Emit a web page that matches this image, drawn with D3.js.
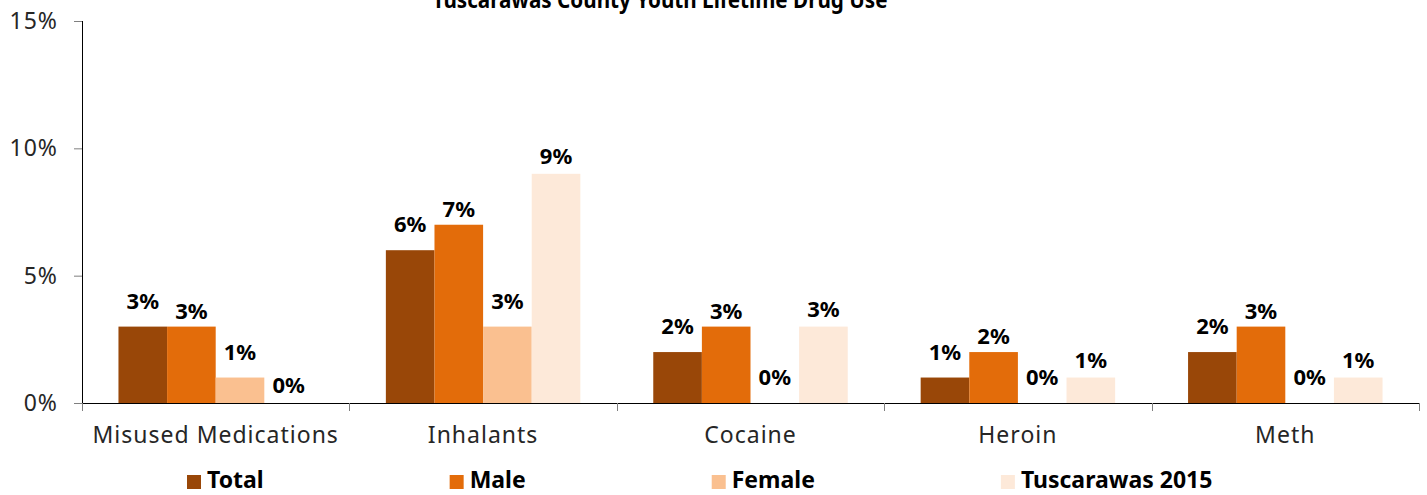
<!DOCTYPE html>
<html><head><meta charset="utf-8">
<script src="https://cdn.jsdelivr.net/npm/d3@7"></script>
<style>
body{margin:0;background:#fff;}
svg{display:block;font-family:"Noto Sans",sans-serif;}
</style></head>
<body>
<svg id="chart" width="1427" height="495"></svg>
<script>
const categories = ["Misused Medications","Inhalants","Cocaine","Heroin","Meth"];
const seriesNames = ["Total","Male","Female","Tuscarawas 2015"];
const totalValues = [3,6,2,1,2];
const maleValues = [3,7,3,2,3];
const femaleValues = [1,3,0,0,0];
const tusc2015Values = [0,9,3,1,1];
const yTicks = [0,5,10,15];
const titleText = "Tuscarawas County Youth Lifetime Drug Use";

const colors = ["#994708","#E36C0A","#FAC090","#FDE9D9"];
const labelGaps = [18,8,18,10];
const seriesValues = [totalValues, maleValues, femaleValues, tusc2015Values];

const svg = d3.select("#chart");
const margin = {left:82, right:8, top:21, bottom:92};
const W = 1427, H = 495;
const plotBottom = H - margin.bottom; // 403

const x0 = d3.scaleBand().domain(categories).range([margin.left, W - margin.right]).padding(0);
const x1 = d3.scaleBand().domain(seriesNames).range([0, x0.bandwidth()]).paddingOuter(0.75).paddingInner(0);
const y = d3.scaleLinear().domain([0,15]).range([plotBottom, margin.top]);

// title (partly cut off at the top, as in the reference)
svg.append("text").attr("x", 660).attr("y", 8).attr("text-anchor","middle")
  .attr("font-size", 24).attr("font-weight","bold").attr("fill","#000")
  .attr("textLength", 455).attr("lengthAdjust","spacingAndGlyphs").text(titleText);

// bars
const groups = svg.append("g").selectAll("g").data(categories).join("g")
  .attr("transform", d => `translate(${x0(d)},0)`);

seriesNames.forEach((s, si) => {
  groups.append("rect")
    .attr("x", x1(s))
    .attr("width", x1.bandwidth())
    .attr("y", (d,i) => y(seriesValues[si][i]))
    .attr("height", (d,i) => plotBottom - y(seriesValues[si][i]))
    .attr("fill", colors[si]);
  groups.append("text")
    .attr("x", x1(s) + x1.bandwidth()/2)
    .attr("y", (d,i) => y(seriesValues[si][i]) - labelGaps[si])
    .attr("text-anchor","middle")
    .attr("font-size", 22).attr("font-weight","bold").attr("fill","#000")
    .text((d,i) => seriesValues[si][i] + "%");
});

// y axis
const yAxis = d3.axisLeft(y).tickValues(yTicks).tickFormat(d => d + "%").tickSize(8).tickPadding(16);
const gy = svg.append("g").attr("transform", `translate(${margin.left},0)`).call(yAxis);
gy.select(".domain").attr("stroke","#000").attr("d", `M0.5,${y(15)}V${plotBottom}`);
gy.selectAll(".tick line").attr("stroke","#7f7f7f");
gy.selectAll(".tick text").attr("font-size", 23).attr("letter-spacing", 1).attr("fill","#262626")
  .attr("font-family","\"Noto Sans\",sans-serif");

// x axis
const gx = svg.append("g").attr("transform", `translate(0,${plotBottom})`);
gx.append("line").attr("x1", margin.left).attr("x2", W - margin.right).attr("y1",0.5).attr("y2",0.5).attr("stroke","#000");
const boundaries = categories.map(c => x0(c)).concat([x0(categories[categories.length-1]) + x0.bandwidth()]);
gx.selectAll("line.tk").data(boundaries).join("line").attr("class","tk")
  .attr("x1", d => Math.round(d)+0.5).attr("x2", d => Math.round(d)+0.5).attr("y1",0).attr("y2",8).attr("stroke","#7f7f7f");
gx.selectAll("text.cat").data(categories).join("text").attr("class","cat")
  .attr("x", d => x0(d) + x0.bandwidth()/2).attr("y", 40)
  .attr("text-anchor","middle").attr("font-size", 23).attr("letter-spacing", 1).attr("fill","#262626").text(d => d);

// legend
const lg = svg.append("g").attr("transform", "translate(0,482)");
let lx = 187;
seriesNames.forEach((s, si) => {
  lg.append("rect").attr("x", lx).attr("y", -7).attr("width", 14).attr("height", 14).attr("fill", colors[si]);
  const t = lg.append("text").attr("x", lx + 20).attr("y", 6).attr("font-size", 23)
    .attr("font-weight","bold").attr("fill","#000").text(s);
  const w = t.node().getComputedTextLength();
  lx = lx + 20 + w + 186;
});
</script>
</body></html>
